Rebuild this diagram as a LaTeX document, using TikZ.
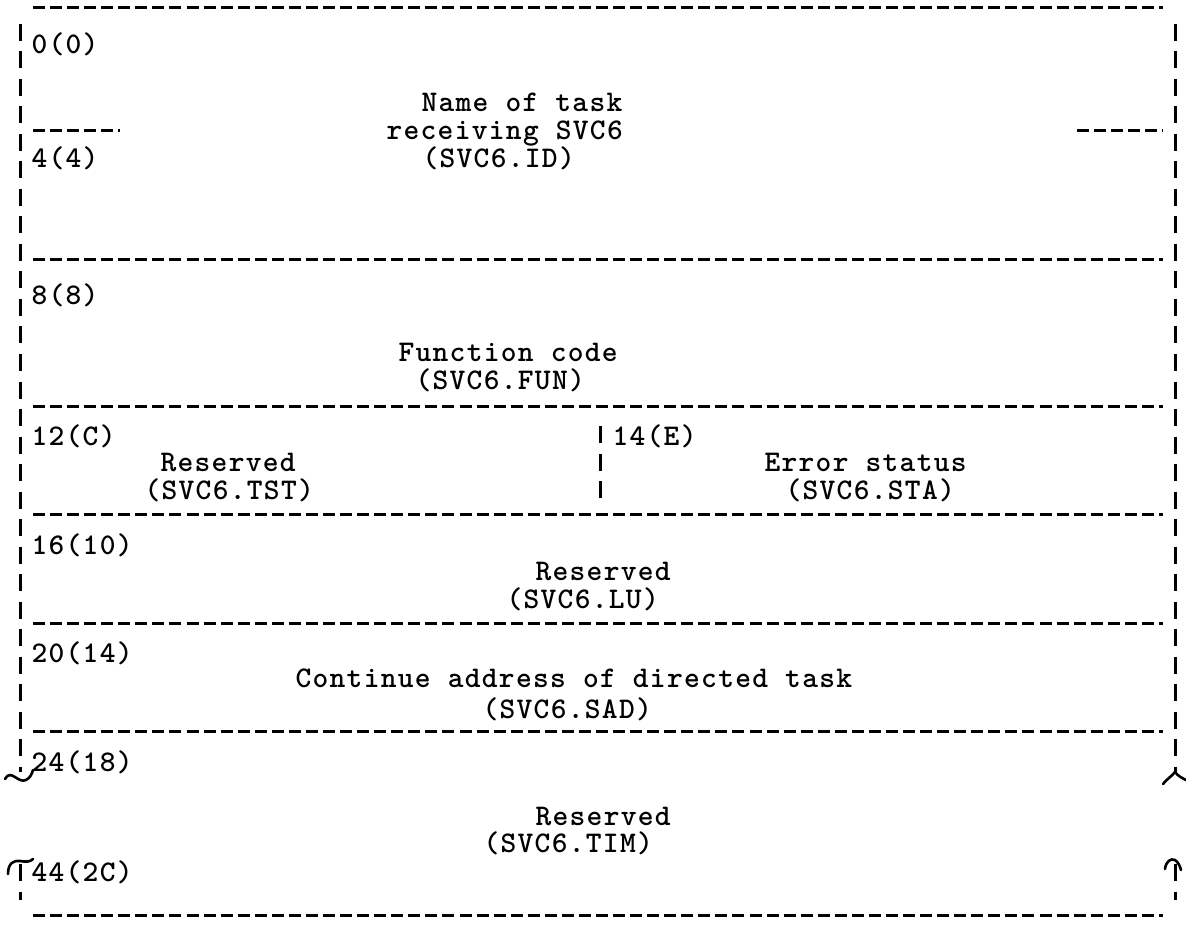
\documentclass[tikz,border=0pt]{standalone}
\usepackage{fontspec}
\newfontfamily\typefont{lmmonolt10-bold}[Extension=.otf, LetterSpace=4.4]
\tikzset{
  every picture/.style={line width=3pt},
  hline/.style={dash pattern=on 12pt off 5.06pt},
  vline/.style={dash pattern=on 17pt off 10.5pt},
  lbl/.style={anchor=base west, inner sep=0pt, font=\typefont\fontsize{30}{32}\selectfont},
  brk/.style={line cap=round, line width=2.6pt},
}
\begin{document}
\begin{tikzpicture}[x=1pt, y=-1pt]
  \useasboundingbox (0,0) rectangle (1186,925);

  % frame: rules between the fields
  \draw[hline] (33,8) -- (1163,8);
  \foreach \y in {260,406,514,623,731} \draw[hline] (33,\y) -- (1163,\y);
  \draw[hline] (33,915) -- (1163,915);
  \draw[hline] (33,131) -- (120,131);
  \draw[hline] (1077,131) -- (1163,131);

  % sides, broken at the bottom field
  \draw[vline] (20,24) -- (20,772);
  \draw[vline] (1175,24) -- (1175,772);
  \draw[vline] (20,864) -- (20,900);
  \draw[vline] (1175,864) -- (1175,900);
  \draw[vline] (600,426) -- (600,500);

  % break marks
  \draw[brk] (5,779) .. controls (11,768) and (18,784) .. (26,780) .. controls (30,778) and (32,774) .. (33,770);
  \draw[brk] (8,874) .. controls (8,863) and (14,860) .. (20,861) .. controls (26,862) and (30,862) .. (33,859);
  \draw[brk] (1163,784) .. controls (1168,778) and (1172,776) .. (1175,772) .. controls (1178,776) and (1182,778) .. (1186,780);
  \draw[brk] (1165,869) .. controls (1166,861) and (1171,858) .. (1175,860) .. controls (1178,862) and (1180,866) .. (1181,870);

  % offsets
  \node[lbl] (o0)  at (30,54)  {0(0)};
  \node[lbl] (o4)  at (30,168) {4(4)};
  \node[lbl] (o8)  at (30,305) {8(8)};
  \node[lbl] (o12) at (30,445) {12(C)};
  \node[lbl] (o14) at (611,445) {14(E)};
  \node[lbl] (o16) at (30,554) {16(10)};
  \node[lbl] (o20) at (30,662) {20(14)};
  \node[lbl] (o24) at (30,771) {24(18)};
  \node[lbl] (o44) at (30,881) {44(2C)};

  % field names
  \node[lbl] (id1)  at (420,112) {Name of task};
  \node[lbl] (id2)  at (385,140) {receiving SVC6};
  \node[lbl] (id3)  at (421,168) {(SVC6.ID)};
  \node[lbl] (fun1) at (397,361) {Function code};
  \node[lbl] (fun2) at (414,389) {(SVC6.FUN)};
  \node[lbl] (tst1) at (159,471) {Reserved};
  \node[lbl] (tst2) at (143,499) {(SVC6.TST)};
  \node[lbl] (sta1) at (763,471) {Error status};
  \node[lbl] (sta2) at (784,499) {(SVC6.STA)};
  \node[lbl] (lu1)  at (534,580) {Reserved};
  \node[lbl] (lu2)  at (505,608) {(SVC6.LU)};
  \node[lbl] (sad1) at (294,687) {Continue address of directed task};
  \node[lbl] (sad2) at (481,718) {(SVC6.SAD)};
  \node[lbl] (tim1) at (534,825) {Reserved};
  \node[lbl] (tim2) at (482,852) {(SVC6.TIM)};
\end{tikzpicture}
\end{document}
